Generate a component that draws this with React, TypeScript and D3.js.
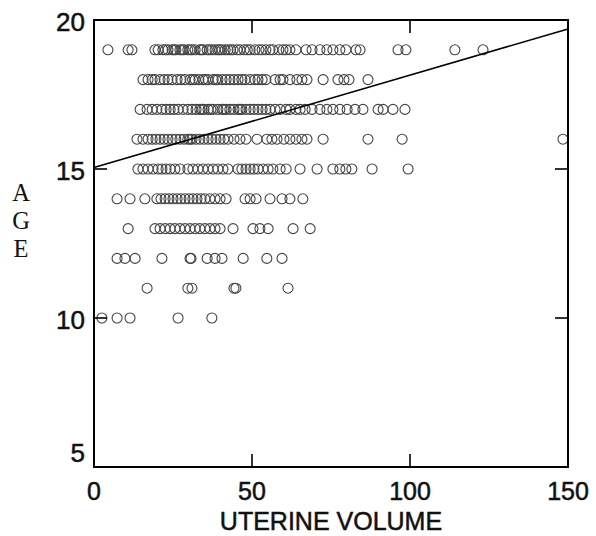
import React from "react";
import * as d3 from "d3";

// uterine volume readings, grouped by age (years)
const ages = [19, 18, 17, 16, 15, 14, 13, 12, 11, 10];

const vol19 = [4.4, 10.8, 12.0, 19.3, 20.3, 21.8, 22.6, 23.4, 24.7, 25.3, 25.9, 27.2, 27.9, 28.5, 29.7, 30.4, 31.0, 32.0, 33.5, 34.0, 34.5, 35.8, 36.5, 37.3, 38.3, 39.2, 39.8, 40.5, 41.5, 42.4, 43.2, 44.0, 45.3, 46.2, 47.5, 48.5, 49.4, 50.9, 52.2, 53.2, 54.4, 55.7, 56.6, 58.5, 59.8, 60.8, 62.0, 63.9, 67.1, 69.0, 71.5, 73.7, 75.6, 77.8, 79.7, 82.9, 84.2, 96.2, 98.7, 114.2, 123.1];
const vol18 = [15.5, 17.1, 18.4, 19.3, 20.9, 22.2, 23.4, 24.7, 26.3, 27.5, 28.8, 30.4, 31.2, 32.0, 33.2, 34.5, 35.3, 36.1, 37.7, 38.5, 39.2, 40.5, 41.8, 43.0, 44.3, 45.6, 46.8, 47.8, 49.4, 50.9, 51.9, 53.2, 54.4, 57.3, 58.9, 59.8, 62.0, 64.2, 65.8, 67.4, 72.5, 77.2, 79.1, 80.7, 86.7];
const vol17 = [14.6, 16.8, 18.4, 19.9, 21.5, 22.8, 24.1, 25.3, 26.6, 28.2, 29.7, 31.0, 32.3, 33.5, 34.2, 34.8, 36.1, 37.0, 37.7, 39.2, 40.5, 41.1, 41.8, 43.0, 44.3, 45.6, 46.2, 46.8, 48.1, 49.4, 50.6, 51.9, 53.2, 54.4, 55.7, 57.3, 58.9, 60.8, 62.0, 63.9, 65.2, 66.8, 69.0, 71.5, 73.7, 75.6, 77.8, 80.1, 82.6, 85.1, 89.9, 91.5, 94.6, 98.4];
const vol16 = [13.6, 15.5, 17.1, 18.4, 19.6, 20.9, 22.2, 23.4, 24.7, 25.9, 27.2, 28.5, 29.7, 30.4, 31.0, 32.3, 33.5, 34.8, 36.1, 37.3, 38.6, 39.9, 41.1, 42.4, 44.3, 46.2, 48.1, 51.6, 54.7, 56.3, 57.9, 60.1, 62.0, 63.9, 65.8, 67.4, 72.5, 86.7, 97.5, 148.4];
const vol15 = [13.9, 15.5, 17.1, 18.7, 20.3, 21.5, 22.8, 24.1, 25.6, 27.2, 29.7, 31.3, 32.9, 34.5, 36.1, 37.7, 39.2, 40.8, 42.4, 45.6, 46.8, 48.1, 49.4, 50.6, 51.9, 53.5, 55.1, 56.6, 58.9, 60.8, 65.2, 70.6, 75.6, 77.8, 79.7, 81.6, 88.0, 99.4];
const vol14 = [7.3, 11.4, 16.1, 19.9, 21.2, 22.5, 23.7, 25.0, 26.3, 27.5, 28.8, 30.1, 31.3, 32.6, 33.9, 35.1, 36.7, 38.3, 39.9, 41.8, 47.8, 49.4, 51.3, 55.7, 59.5, 62.0, 66.1];
const vol13 = [10.8, 19.3, 20.9, 22.5, 24.1, 25.6, 27.2, 28.8, 30.4, 32.0, 33.5, 35.1, 36.7, 38.3, 39.9, 44.0, 50.3, 52.5, 55.1, 63.0, 68.4];
const vol12 = [7.3, 9.8, 13.0, 21.5, 30.4, 30.7, 35.8, 38.3, 40.5, 47.2, 54.7, 59.5];
const vol11 = [16.8, 29.7, 31.0, 44.3, 44.9, 61.4];
const vol10 = [2.5, 7.3, 11.4, 26.6, 37.3];

const volumesByAge = [vol19, vol18, vol17, vol16, vol15, vol14, vol13, vol12, vol11, vol10];

// fitted regression line end points
const lineVol = [0, 150];
const lineAge = [15.05, 19.7];

const xTicks = [0, 50, 100, 150];
const yTicks = [5, 10, 15, 20];

const width = 596;
const height = 536;
const margin = { top: 20, right: 28, bottom: 69, left: 94 };
const tickLen = 13;

export default function App() {
  const x = d3.scaleLinear().domain([0, 150]).range([margin.left, width - margin.right]);
  const y = d3.scaleLinear().domain([5, 20]).range([height - margin.bottom, margin.top]);

  const points = ages.flatMap((age, i) => volumesByAge[i].map((v) => ({ age, v })));

  const line = d3
    .line<number>()
    .x((d) => x(d))
    .y((_, i) => y(lineAge[i]));

  const sans = "Arial, 'Liberation Sans', sans-serif";
  // scanned labels look slightly heavier than a plain regular face
  const heavy = { stroke: "#111", strokeWidth: 0.5 };

  return (
    <svg
      width={width}
      height={height}
      style={{ position: "absolute", left: 0, top: 0, background: "#fff" }}
    >
      {/* points */}
      {points.map((p, i) => (
        <circle
          key={i}
          cx={x(p.v)}
          cy={y(p.age)}
          r={5}
          fill="none"
          stroke="#444"
          strokeWidth={1.1}
        />
      ))}

      {/* regression line */}
      <path d={line(lineVol) || ""} fill="none" stroke="#000" strokeWidth={1.6} />

      {/* frame */}
      <rect
        x={x(0)}
        y={y(20)}
        width={x(150) - x(0)}
        height={y(5) - y(20)}
        fill="none"
        stroke="#000"
        strokeWidth={2}
      />

      {/* inward ticks */}
      {xTicks.slice(1, -1).map((t) => (
        <g key={"xt" + t} stroke="#000" strokeWidth={1.6}>
          <line x1={x(t)} x2={x(t)} y1={y(5)} y2={y(5) - tickLen} />
          <line x1={x(t)} x2={x(t)} y1={y(20)} y2={y(20) + tickLen} />
        </g>
      ))}
      {yTicks.slice(1, -1).map((t) => (
        <g key={"yt" + t} stroke="#000" strokeWidth={1.6}>
          <line x1={x(0)} x2={x(0) + tickLen} y1={y(t)} y2={y(t)} />
          <line x1={x(150)} x2={x(150) - tickLen} y1={y(t)} y2={y(t)} />
        </g>
      ))}

      {/* tick labels */}
      {xTicks.map((t) => (
        <text
          key={"xl" + t}
          x={x(t)}
          y={y(5) + 33}
          textAnchor="middle"
          fontFamily={sans}
          fontSize={25}
          fill="#111"
          {...heavy}
        >
          {t}
        </text>
      ))}
      {yTicks.map((t) => (
        <text
          key={"yl" + t}
          x={x(0) - 9}
          y={y(t) + (t === 5 ? -5 : 11)}
          textAnchor="end"
          fontFamily={sans}
          fontSize={26}
          fill="#111"
          {...heavy}
        >
          {t}
        </text>
      ))}

      {/* axis titles */}
      <text
        x={(x(0) + x(150)) / 2}
        y={530}
        textAnchor="middle"
        fontFamily={sans}
        fontSize={25}
        fill="#111"
        {...heavy}
      >
        UTERINE VOLUME
      </text>
      {["A", "G", "E"].map((c, i) => (
        <text
          key={c}
          x={21}
          y={201 + i * 28}
          textAnchor="middle"
          fontFamily="'Liberation Serif', 'Times New Roman', serif"
          fontSize={24.5}
          fill="#111"
        >
          {c}
        </text>
      ))}
    </svg>
  );
}
